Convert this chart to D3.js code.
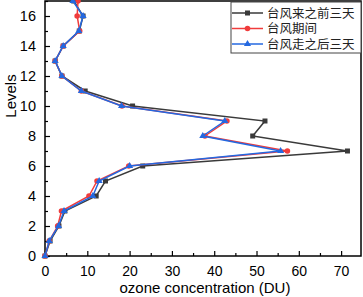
<!DOCTYPE html>
<html>
<head>
<meta charset="utf-8">
<script src="https://cdn.jsdelivr.net/npm/d3@7.9.0/dist/d3.min.js"></script>
<style>
  body { margin: 0; background: #fff; }
  text { font-family: "Liberation Sans", Arial, sans-serif; }
  .cn { font-family: "Noto Sans CJK SC", sans-serif; }
</style>
</head>
<body>
<div id="chart"></div>
<script>
// levels 0..17
const levels = d3.range(0, 18);
const before = [0, 1.2, 3.3, 4.7, 12.1, 14.3, 23.1, 71.5, 49.1, 52.0, 20.7, 9.5, 4.0, 2.4, 4.3, 8.1, 9.0, 6.8];
const during = [0, 1.0, 3.0, 3.9, 10.4, 12.3, 19.8, 57.3, 37.8, 43.0, 18.2, 8.6, 4.0, 2.4, 4.3, 8.2, 7.6, 7.8];
const after  = [0, 1.0, 3.2, 4.5, 11.3, 12.8, 20.0, 55.7, 37.3, 42.5, 18.1, 8.6, 4.0, 2.4, 4.3, 8.0, 9.0, 6.6];
const seriesNames = ['台风来之前三天', '台风期间', '台风走之后三天'];
const seriesColors = ['#3a3a3a', '#f03c3c', '#2468e0'];
const xTicks = [0, 10, 20, 30, 40, 50, 60, 70];
const yTicks = [0, 2, 4, 6, 8, 10, 12, 14, 16];

const width = 363, height = 297;
const area = { left: 45, right: 361, top: 1, bottom: 256 };

const svg = d3.select('#chart').append('svg')
    .attr('width', width)
    .attr('height', height);

const xScale = d3.scaleLinear().domain([0, 74.7]).range([area.left, area.right]);
const yScale = d3.scaleLinear().domain([0, 17]).range([area.bottom, area.top]);

// frame
svg.append('rect')
    .attr('x', area.left)
    .attr('y', area.top)
    .attr('width', area.right - area.left)
    .attr('height', area.bottom - area.top)
    .attr('fill', 'none')
    .attr('stroke', '#000')
    .attr('stroke-width', 1.5);

// minor ticks (inward)
svg.append('g')
    .attr('transform', `translate(0, ${area.bottom})`)
    .call(d3.axisTop(xScale).tickValues(d3.range(5, 75, 10)).tickSize(3).tickFormat(''))
    .call(g => g.select('.domain').remove())
    .call(g => g.selectAll('line').attr('stroke-width', 1.2));
svg.append('g')
    .attr('transform', `translate(${area.left}, 0)`)
    .call(d3.axisRight(yScale).tickValues(d3.range(1, 18, 2)).tickSize(3).tickFormat(''))
    .call(g => g.select('.domain').remove())
    .call(g => g.selectAll('line').attr('stroke-width', 1.2));

// major ticks + labels
const xAxis = svg.append('g')
    .attr('transform', `translate(0, ${area.bottom})`)
    .call(d3.axisBottom(xScale).tickValues(xTicks).tickSizeInner(-5).tickSizeOuter(0).tickPadding(10));
xAxis.select('.domain').remove();
xAxis.selectAll('line').attr('stroke-width', 1.2);
xAxis.selectAll('text').attr('font-size', '14px').attr('fill', '#000')
    .style('font-family', '"Liberation Sans", Arial, sans-serif');

const yAxis = svg.append('g')
    .attr('transform', `translate(${area.left}, 0)`)
    .call(d3.axisLeft(yScale).tickValues(yTicks).tickSizeInner(-5).tickSizeOuter(0).tickPadding(9));
yAxis.select('.domain').remove();
yAxis.selectAll('line').attr('stroke-width', 1.2);
yAxis.selectAll('text').attr('font-size', '14.5px').attr('fill', '#000')
    .style('font-family', '"Liberation Sans", Arial, sans-serif');

// axis titles
svg.append('text')
    .attr('x', 205)
    .attr('y', 293)
    .attr('text-anchor', 'middle')
    .attr('font-size', '15px')
    .text('ozone concentration (DU)');

svg.append('text')
    .attr('transform', 'rotate(-90)')
    .attr('x', -96)
    .attr('y', 16)
    .attr('text-anchor', 'middle')
    .attr('font-size', '15px')
    .text('Levels');

// series
const allSeries = [before, during, after];
const line = d3.line()
    .x(d => xScale(d.v))
    .y(d => yScale(d.l));

const triangle = d3.symbol().type(d3.symbolTriangle).size(22);

allSeries.forEach((vals, i) => {
    const pts = vals.map((v, j) => ({ v, l: levels[j] }));
    const g = svg.append('g').attr('class', `series s${i}`);
    g.append('path')
        .datum(pts)
        .attr('d', line)
        .attr('fill', 'none')
        .attr('stroke', seriesColors[i])
        .attr('stroke-width', 1.5);

    if (i === 0) {
        g.selectAll('rect').data(pts).enter().append('rect')
            .attr('x', d => xScale(d.v) - 2.5)
            .attr('y', d => yScale(d.l) - 2.5)
            .attr('width', 5)
            .attr('height', 5)
            .attr('fill', seriesColors[i]);
    } else if (i === 1) {
        g.selectAll('circle').data(pts).enter().append('circle')
            .attr('cx', d => xScale(d.v))
            .attr('cy', d => yScale(d.l))
            .attr('r', 2.8)
            .attr('fill', seriesColors[i]);
    } else {
        g.selectAll('path.mk').data(pts).enter().append('path')
            .attr('class', 'mk')
            .attr('transform', d => `translate(${xScale(d.v)}, ${yScale(d.l)})`)
            .attr('d', triangle)
            .attr('fill', seriesColors[i]);
    }
});

// legend
const legend = svg.append('g').attr('class', 'legend');
legend.append('rect')
    .attr('x', 231)
    .attr('y', 2)
    .attr('width', 130)
    .attr('height', 51)
    .attr('fill', '#fff')
    .attr('stroke', '#444')
    .attr('stroke-width', 1);

const legendItem = legend.selectAll('.legend-item')
    .data(seriesNames)
    .enter()
    .append('g')
    .attr('class', 'legend-item')
    .attr('transform', (d, i) => `translate(0, ${13 + i * 15.5})`);

legendItem.append('line')
    .attr('x1', 232)
    .attr('x2', 263)
    .attr('y1', 0)
    .attr('y2', 0)
    .attr('stroke', (d, i) => seriesColors[i])
    .attr('stroke-width', 1.5);

legendItem.each(function(d, i) {
    const g = d3.select(this);
    if (i === 0) {
        g.append('rect').attr('x', 245).attr('y', -2.5).attr('width', 5).attr('height', 5).attr('fill', seriesColors[i]);
    } else if (i === 1) {
        g.append('circle').attr('cx', 247.5).attr('cy', 0).attr('r', 2.8).attr('fill', seriesColors[i]);
    } else {
        g.append('path').attr('transform', 'translate(247.5, 0)').attr('d', triangle).attr('fill', seriesColors[i]);
    }
});

legendItem.append('text')
    .attr('class', 'cn')
    .attr('x', 267)
    .attr('y', 0)
    .attr('dy', '0.36em')
    .attr('font-size', '12.5px')
    .attr('fill', '#222')
    .text(d => d);
</script>
</body>
</html>
